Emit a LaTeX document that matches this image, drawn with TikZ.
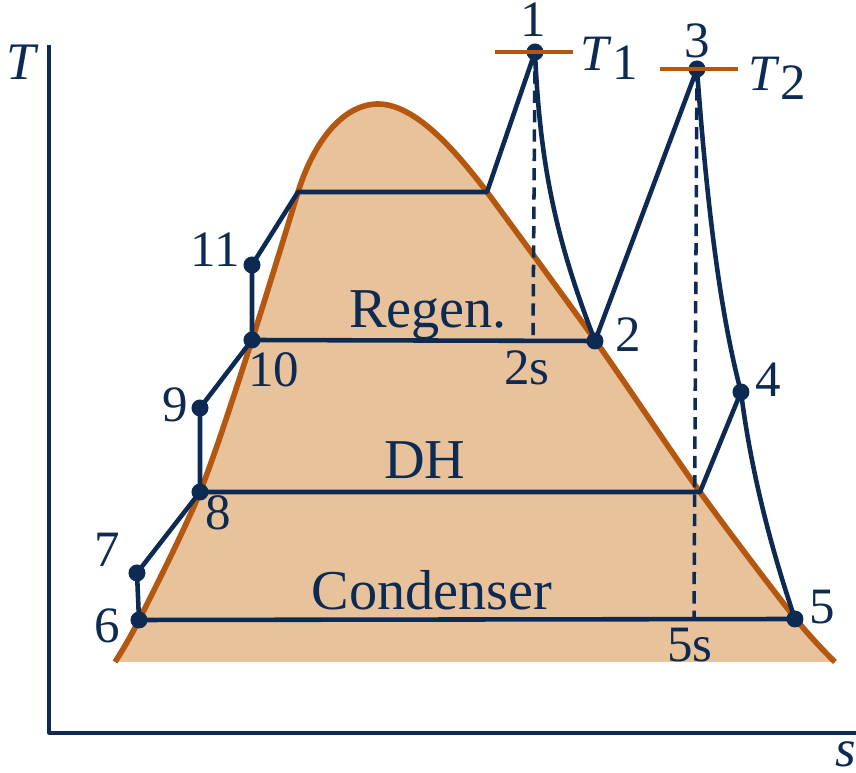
\documentclass[tikz,border=0pt]{standalone}
\usepackage{fontspec}
\setmainfont{Liberation Serif}
\definecolor{navy}{HTML}{0D2A52}
\definecolor{domeline}{HTML}{B5570F}
\definecolor{wet}{HTML}{E8C29B}

\begin{document}
\begin{tikzpicture}[x=0.01cm, y=-0.01cm, line join=round,
    cyc/.style={navy, line width=1.3pt},
    dot/.style={circle, fill=navy, inner sep=0pt, minimum size=1.7mm},
    lbl/.style={text=navy, inner sep=0pt, font=\fontsize{14.5}{16}\selectfont},
    big/.style={text=navy, inner sep=0pt, font=\fontsize{16}{18}\selectfont}]
    \useasboundingbox (0,0) rectangle (856,773);
    % states
    \coordinate (p1) at (535,52);
    \coordinate (p2) at (595,341);
    \coordinate (p2s) at (533,341);
    \coordinate (p3) at (697,69);
    \coordinate (p4) at (741,392);
    \coordinate (p5) at (795,619);
    \coordinate (p5s) at (694,619);
    \coordinate (p6) at (139,620);
    \coordinate (p7) at (137,573);
    \coordinate (p8) at (200,492);
    \coordinate (p8v) at (700,492);
    \coordinate (p9) at (200,408);
    \coordinate (p10) at (252,340);
    \coordinate (p11) at (252,265);
    \coordinate (hf) at (298,192);
    \coordinate (hg) at (487,192);
    % dome
    \fill[wet] plot[smooth] coordinates {(115,662) (139,620) (200,492) (252,340) (298,192)}
        .. controls (315,138) and (345,104) .. (378,104)
        .. controls (415,104) and (455,150) .. (487,192)
        -- plot[smooth] coordinates {(487,192) (595,340) (700,492) (795,618) (835,662)} -- cycle;
    \draw[domeline, line width=1.6pt] plot[smooth] coordinates {(115,662) (139,620) (200,492) (252,340) (298,192)}
        .. controls (315,138) and (345,104) .. (378,104)
        .. controls (415,104) and (455,150) .. (487,192)
        -- plot[smooth] coordinates {(487,192) (595,340) (700,492) (795,618) (835,662)};
    % axes
    \draw[navy, line width=0.9pt] (49,45) -- (49,733) -- (856,733);
    \node[text=navy, font=\fontsize{15}{16}\selectfont\itshape] (Tax) at (21,62) {T};
    \node[text=navy, font=\fontsize{15}{16}\selectfont\itshape] (sax) at (846,754) {s};
    % isentropic lines
    \draw[navy, line width=1pt, dash pattern=on 3.5pt off 2pt] (p1) -- (p2s);
    \draw[navy, line width=1pt, dash pattern=on 3.5pt off 2pt] (p3) -- (p5s);
    % cycle
    \draw[cyc] (p6) -- (p7) -- (p8) -- (p9) -- (p10) -- (p11) -- (hf) -- (hg) -- (p1)
        .. controls (540,170) and (558,245) .. (p2) -- (p3)
        .. controls (708,220) and (722,320) .. (p4)
        .. controls (752,480) and (775,560) .. (p5) -- (p6);
    \draw[cyc] (p10) -- (p2);
    \draw[cyc] (p8) -- (p8v) -- (p4);
    \foreach \p in {p1,p2,p3,p4,p5,p6,p7,p8,p9,p10,p11}
        \node[dot] at (\p) {};
    % temperature marks
    \draw[domeline, line width=1.2pt] (495,52) -- (573,52);
    \draw[domeline, line width=1.2pt] (660,69) -- (738,69);
    % labels
    \node[lbl] (l1) at (533,20) {1};
    \node[lbl] (l2) at (628,335) {2};
    \node[lbl] (l2s) at (527,368) {2s};
    \node[lbl] (l3) at (697,41) {3};
    \node[lbl] (l4) at (768,380) {4};
    \node[lbl] (l5) at (822,607) {5};
    \node[lbl] (l5s) at (690,645) {5s};
    \node[lbl] (l6) at (107,626) {6};
    \node[lbl] (l7) at (107,550) {7};
    \node[lbl] (l8) at (218,513) {8};
    \node[lbl] (l9) at (175,405) {9};
    \node[lbl] (l10) at (274,370) {10};
    \node[lbl] (l11) at (215,250) {11};
    \node[lbl, anchor=west] (lT1) at (580,58) {\textit{T}\raisebox{-0.4ex}{1}};
    \node[lbl, anchor=west] (lT2) at (748,78) {\textit{T}\raisebox{-0.4ex}{2}};
    \node[big] (regen) at (428,315) {Regen.};
    \node[big] (dh) at (425,460) {DH};
    \node[big] (cond) at (432,590) {Condenser};
\end{tikzpicture}
\end{document}
